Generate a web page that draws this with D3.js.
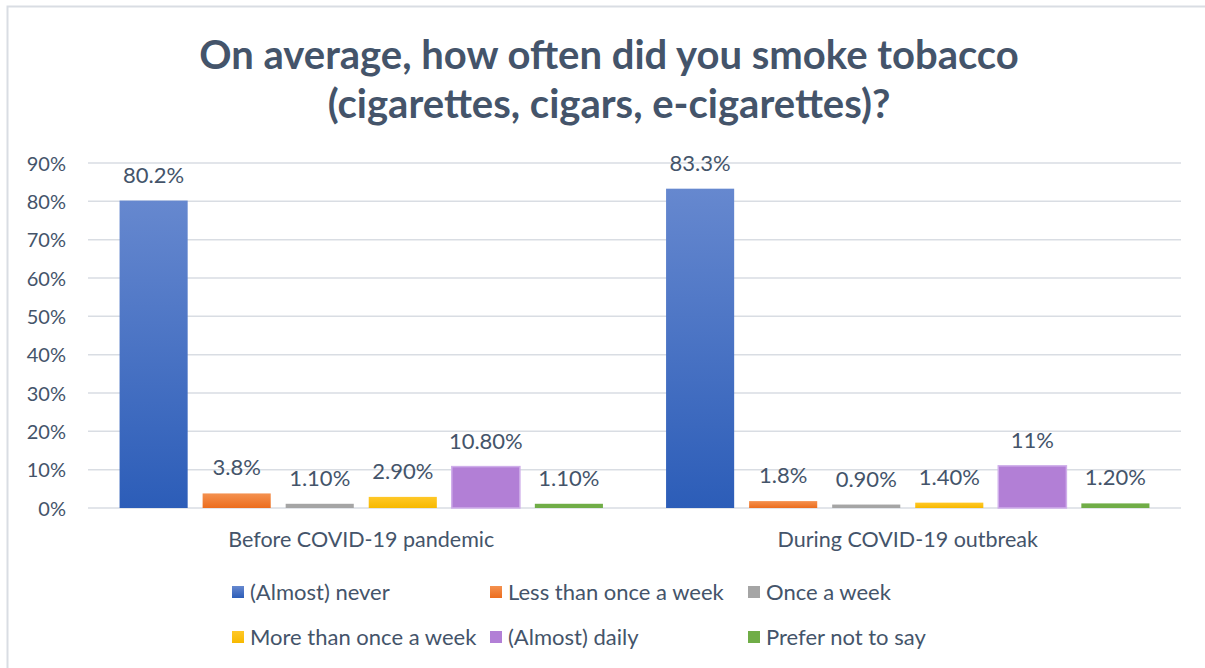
<!DOCTYPE html>
<html>
<head>
<meta charset="utf-8">
<script src="https://cdn.jsdelivr.net/npm/d3@7"></script>
<style>
  html, body { margin: 0; padding: 0; background: #fff; }
  svg { display: block; }
  text { font-family: Lato, "Open Sans", sans-serif; fill: #44546a; }
</style>
</head>
<body>
<svg id="chart" width="1205" height="668"></svg>
<script>
const titleLines = ["On average, how often did you smoke tobacco", "(cigarettes, cigars, e-cigarettes)?"];
const categories = ["Before COVID-19 pandemic", "During COVID-19 outbreak"];
const seriesNames = ["(Almost) never", "Less than once a week", "Once a week", "More than once a week", "(Almost) daily", "Prefer not to say"];
const beforeValues = [80.2, 3.8, 1.1, 2.9, 10.8, 1.1];
const duringValues = [83.3, 1.8, 0.9, 1.4, 11, 1.2];
const beforeLabels = ["80.2%", "3.8%", "1.10%", "2.90%", "10.80%", "1.10%"];
const duringLabels = ["83.3%", "1.8%", "0.90%", "1.40%", "11%", "1.20%"];
const yTicks = [0, 10, 20, 30, 40, 50, 60, 70, 80, 90];
const colorsTop = ["#6688cf", "#f4914f", "#a5a5a5", "#ffc828", "#b27fd6", "#70ad47"];
const colorsBottom = ["#2c5db8", "#ec6d1e", "#a5a5a5", "#f7b900", "#b27fd6", "#70ad47"];

const svg = d3.select("#chart");
const plot = {left: 88, right: 1181, top: 163, bottom: 508};

// chart border (right and bottom edges lie outside the picture)
svg.append("rect").attr("x", 7.5).attr("y", 6.5).attr("width", 1300).attr("height", 800)
  .attr("fill", "#fff").attr("stroke", "#d9dde3").attr("stroke-width", 2);

// gradients
const defs = svg.append("defs");
seriesNames.forEach((s, i) => {
  const g = defs.append("linearGradient").attr("id", "grad" + i)
    .attr("x1", 0).attr("y1", 0).attr("x2", 0).attr("y2", 1);
  g.append("stop").attr("offset", "0%").attr("stop-color", colorsTop[i]);
  g.append("stop").attr("offset", "100%").attr("stop-color", colorsBottom[i]);
});

// title
svg.append("g").selectAll("text").data(titleLines).join("text")
  .attr("x", 609).attr("y", (d, i) => 69 + i * 49)
  .attr("text-anchor", "middle")
  .style("font-size", "40px").style("font-weight", "bold")
  .text(d => d);

const y = d3.scaleLinear().domain([0, 90]).range([plot.bottom, plot.top]);
const x0 = d3.scaleBand().domain(categories).range([plot.left, plot.right]).padding(0);
const x1 = d3.scaleBand().domain(seriesNames).range([0, x0.bandwidth()])
  .paddingInner(0.18).paddingOuter(0.38);

// grid lines
svg.append("g").selectAll("line").data(yTicks).join("line")
  .attr("x1", plot.left).attr("x2", plot.right)
  .attr("y1", d => y(d)).attr("y2", d => y(d))
  .attr("stroke", "#d9dde3").attr("stroke-width", 1.5);

// y axis labels
const yAxis = d3.axisLeft(y).tickValues(yTicks).tickFormat(d => d + "%").tickSize(0).tickPadding(0);
const ya = svg.append("g").attr("transform", `translate(66,0)`).call(yAxis);
ya.select(".domain").remove();
ya.selectAll("text").style("font-size", "20px").style("font-family", "Lato, sans-serif").attr("fill", "#44546a").attr("dy", "0.35em");

// bars
const groups = [
  {cat: categories[0], values: beforeValues, labels: beforeLabels},
  {cat: categories[1], values: duringValues, labels: duringLabels}
];
const gSel = svg.append("g").selectAll("g").data(groups).join("g")
  .attr("transform", d => `translate(${x0(d.cat)},0)`);
gSel.selectAll("rect").data(d => d.values.map((v, i) => ({v, i, s: seriesNames[i], label: d.labels[i]})))
  .join("rect")
  .attr("x", d => x1(d.s)).attr("width", x1.bandwidth())
  .attr("y", d => y(d.v)).attr("height", d => y(0) - y(d.v))
  .attr("fill", d => `url(#grad${d.i})`)
  .attr("stroke", d => d.i === 4 ? "#cfaeea" : "none").attr("stroke-width", 1.5);
gSel.selectAll("text").data(d => d.values.map((v, i) => ({v, i, s: seriesNames[i], label: d.labels[i]})))
  .join("text")
  .attr("x", d => x1(d.s) + x1.bandwidth() / 2)
  .attr("y", d => y(d.v) - 18)
  .attr("text-anchor", "middle").style("font-size", "22px")
  .text(d => d.label);

// category labels
const xAxis = d3.axisBottom(x0).tickSize(0).tickPadding(0);
const xa = svg.append("g").attr("transform", `translate(0,${plot.bottom})`).call(xAxis);
xa.select(".domain").remove();
xa.selectAll("text").attr("y", 39).attr("dy", 0).style("font-size", "21.5px").style("font-family", "Lato, sans-serif").attr("fill", "#44546a");

// legend
const legendX = [232, 490, 748];
const legendY = [592, 637];
const leg = svg.append("g").selectAll("g").data(seriesNames).join("g")
  .attr("transform", (d, i) => `translate(${legendX[i % 3]},${legendY[Math.floor(i / 3)]})`);
leg.append("rect").attr("x", 0).attr("y", -6).attr("width", 12).attr("height", 12)
  .attr("fill", (d, i) => `url(#grad${i})`);
leg.append("text").attr("x", 18).attr("y", 7.5).style("font-size", "22px").text(d => d);
</script>
</body>
</html>
